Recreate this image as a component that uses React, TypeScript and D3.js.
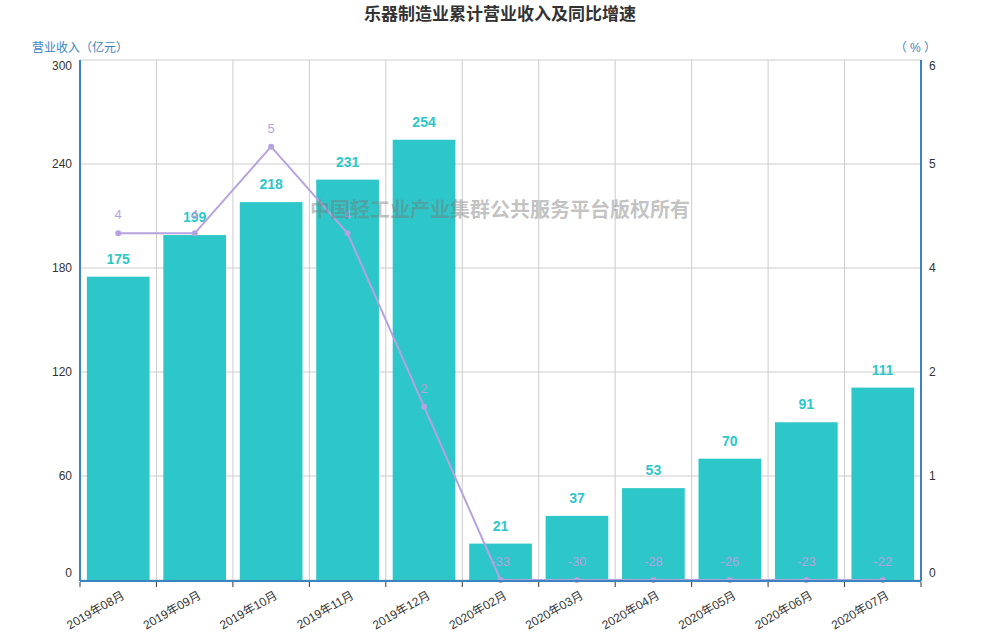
import { useEffect, useRef } from 'react';
import * as d3 from 'd3';

const months = [
  '2019年08月', '2019年09月', '2019年10月', '2019年11月', '2019年12月',
  '2020年02月', '2020年03月', '2020年04月', '2020年05月', '2020年06月', '2020年07月',
];
const revenue = [175, 199, 218, 231, 254, 21, 37, 53, 70, 91, 111];
const growth = [4, 4, 5, 4, 2, -33, -30, -28, -26, -23, -22];
const leftTicks = [0, 60, 120, 180, 240, 300];
const rightTicks = [0, 1.2, 2.4, 3.6, 4.8, 6];

const FONT = "Arial, 'Liberation Sans', 'Noto Sans CJK SC', sans-serif";
const BAR = '#2ec7c9';
const LINE = '#b6a2de';
const AXIS = '#3a84c1';

export default function App() {
  const ref = useRef<SVGSVGElement | null>(null);

  useEffect(() => {
    if (!ref.current) return;
    const svg = d3.select(ref.current);
    svg.selectAll('*').remove();

    const margin = { top: 60, right: 79, bottom: 60, left: 80 };
    const width = 1000;
    const innerW = width - margin.left - margin.right;
    const innerH = 580 - margin.top;

    const x = d3.scaleBand().domain(months).range([0, innerW]).paddingInner(0.18).paddingOuter(0.09);
    const band = d3.scaleBand().domain(months).range([0, innerW]);
    const y = d3.scaleLinear().domain([0, 300]).range([innerH, 0]);
    const y2 = d3.scaleLinear().domain([0, 6]).range([innerH, 0]).clamp(true);

    // end labels sit inside the plot, like the original
    const labelShift = (i: number, n: number) => (i === 0 ? -7 : i === n - 1 ? 6 : 0);

    // title
    svg.append('text')
      .attr('x', 500).attr('y', 20)
      .attr('text-anchor', 'middle')
      .attr('font-family', FONT).attr('font-size', 17).attr('font-weight', 'bold')
      .attr('fill', '#333')
      .text('乐器制造业累计营业收入及同比增速');

    // axis names
    svg.append('text')
      .attr('x', 32).attr('y', 52)
      .attr('font-family', FONT).attr('font-size', 12).attr('fill', AXIS)
      .text('营业收入（亿元）');
    svg.append('text')
      .attr('x', 936).attr('y', 52).attr('text-anchor', 'end')
      .attr('font-family', FONT).attr('font-size', 12).attr('fill', AXIS)
      .text('（ % ）');

    const g = svg.append('g').attr('transform', `translate(${margin.left},${margin.top})`);

    // grid
    g.selectAll('.hgrid').data(leftTicks).enter().append('line')
      .attr('x1', 0).attr('x2', innerW)
      .attr('y1', d => y(d)).attr('y2', d => y(d))
      .attr('stroke', '#ccc').attr('stroke-width', 1);
    g.selectAll('.vgrid').data(months.concat(['end'])).enter().append('line')
      .attr('x1', (d, i) => i * band.bandwidth()).attr('x2', (d, i) => i * band.bandwidth())
      .attr('y1', 0).attr('y2', innerH)
      .attr('stroke', '#ccc').attr('stroke-width', 1);

    // bars
    g.selectAll('.bar').data(revenue).enter().append('rect')
      .attr('x', (d, i) => x(months[i])!)
      .attr('width', x.bandwidth())
      .attr('y', d => y(d))
      .attr('height', d => innerH - y(d))
      .attr('fill', BAR);

    g.selectAll('.barlabel').data(revenue).enter().append('text')
      .attr('x', (d, i) => x(months[i])! + x.bandwidth() / 2)
      .attr('y', d => y(d) - 13)
      .attr('text-anchor', 'middle')
      .attr('font-family', FONT).attr('font-size', 14).attr('font-weight', 'bold')
      .attr('fill', BAR)
      .text(d => d);

    // line
    const cx = (i: number) => band(months[i])! + band.bandwidth() / 2;
    const line = d3.line<number>()
      .x((d, i) => cx(i))
      .y(d => y2(d));
    g.append('path')
      .datum(growth)
      .attr('d', line)
      .attr('fill', 'none')
      .attr('stroke', LINE)
      .attr('stroke-width', 2);
    g.selectAll('.pt').data(growth).enter().append('circle')
      .attr('cx', (d, i) => cx(i)).attr('cy', d => y2(d))
      .attr('r', 3).attr('fill', LINE);
    g.selectAll('.ptlabel').data(growth).enter().append('text')
      .attr('x', (d, i) => cx(i)).attr('y', d => y2(d) - 14)
      .attr('text-anchor', 'middle')
      .attr('font-family', FONT).attr('font-size', 13)
      .attr('fill', LINE)
      .text(d => d);

    // watermark
    svg.append('text')
      .attr('x', 500).attr('y', 217)
      .attr('text-anchor', 'middle')
      .attr('font-family', FONT).attr('font-size', 20).attr('font-weight', 'bold')
      .attr('fill', 'rgba(120,120,120,0.45)')
      .text('中国轻工业产业集群公共服务平台版权所有');

    // left axis
    g.append('line').attr('x1', 0).attr('x2', 0).attr('y1', 0).attr('y2', innerH + 1)
      .attr('stroke', AXIS).attr('stroke-width', 2);
    g.selectAll('.lt').data(leftTicks).enter().append('text')
      .attr('x', -8).attr('y', (d, i) => y(d) + labelShift(i, leftTicks.length)).attr('dy', '0.35em')
      .attr('text-anchor', 'end')
      .attr('font-family', FONT).attr('font-size', 12).attr('fill', '#333')
      .text(d => d);

    // right axis
    g.append('line').attr('x1', innerW).attr('x2', innerW).attr('y1', 0).attr('y2', innerH + 1)
      .attr('stroke', AXIS).attr('stroke-width', 2);
    g.selectAll('.rt').data(rightTicks).enter().append('text')
      .attr('x', innerW + 8).attr('y', (d, i) => y2(d) + labelShift(i, rightTicks.length)).attr('dy', '0.35em')
      .attr('font-family', FONT).attr('font-size', 12).attr('fill', '#333')
      .text(d => d3.format('.0f')(d));

    // bottom axis
    g.append('line').attr('x1', 0).attr('x2', innerW).attr('y1', innerH + 1).attr('y2', innerH + 1)
      .attr('stroke', AXIS).attr('stroke-width', 2);
    g.selectAll('.bt').data(months.concat(['end'])).enter().append('line')
      .attr('x1', (d, i) => i * band.bandwidth()).attr('x2', (d, i) => i * band.bandwidth())
      .attr('y1', innerH + 2).attr('y2', innerH + 7)
      .attr('stroke', '#333').attr('stroke-width', 1);
    g.selectAll('.xl').data(months).enter().append('text')
      .attr('transform', (d, i) => `translate(${cx(i) + 5},${innerH + 14}) rotate(-30)`)
      .attr('text-anchor', 'end')
      .attr('dy', '0.35em')
      .attr('font-family', FONT).attr('font-size', 12).attr('fill', '#333')
      .text(d => d);
  }, []);

  return (
    <svg
      ref={ref}
      width={1000}
      height={640}
      style={{ position: 'absolute', left: 0, top: 0, background: '#fff' }}
    />
  );
}
